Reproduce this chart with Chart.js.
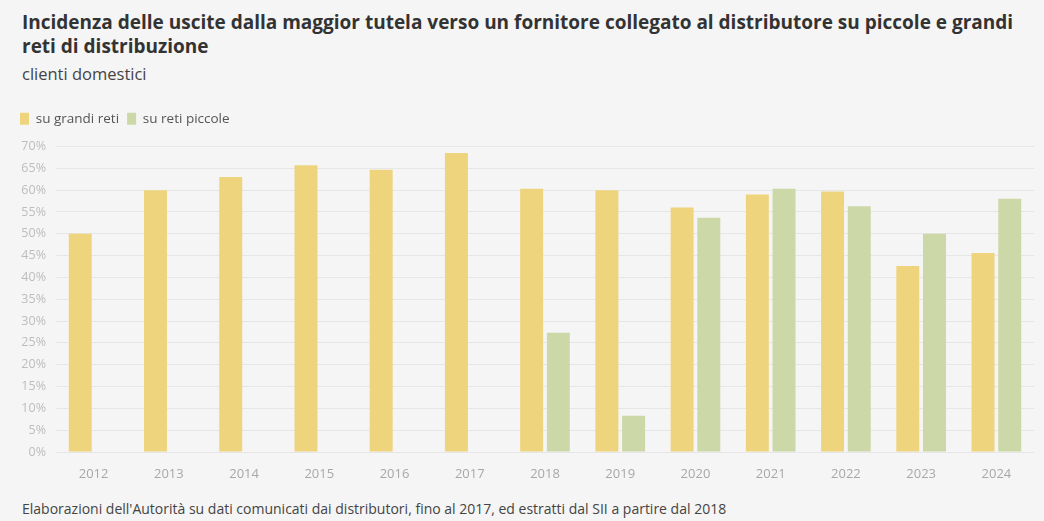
<!DOCTYPE html>
<html lang="it">
<head>
<meta charset="utf-8">
<title>Uscite dalla maggior tutela</title>
<script src="https://cdn.jsdelivr.net/npm/chart.js@4.4.1/dist/chart.umd.min.js"></script>
<style>
  html, body { margin: 0; padding: 0; }
  body {
    width: 1044px; height: 521px; overflow: hidden;
    background: #f5f5f5; font-family: "Open Sans", Lato, sans-serif; position: relative;
  }
  h1 {
    position: absolute; left: 22px; top: 10px; width: 1012px; margin: 0;
    font-size: 19px; line-height: 24px; font-weight: 700; color: #333;
  }
  .sub { position: absolute; left: 22px; top: 62px; font-size: 16.5px; color: #444; }
  .box { position: absolute; left: 0; top: 98px; width: 1044px; height: 382px; }
  .note { position: absolute; left: 22px; top: 499px; font-size: 14px; color: #444; }
</style>
</head>
<body>
<h1>Incidenza delle uscite dalla maggior tutela verso un fornitore collegato al distributore su piccole e grandi reti di distribuzione</h1>
<div class="sub">clienti domestici</div>
<div class="box"><canvas id="uscite"></canvas></div>
<div class="note">Elaborazioni dell'Autorità su dati comunicati dai distributori, fino al 2017, ed estratti dal SII a partire dal 2018</div>
<script>
// anni e quote di uscita (%)
var anni = ['2012', '2013', '2014', '2015', '2016', '2017', '2018', '2019', '2020', '2021', '2022', '2023', '2024'];
var grandiReti = [50, 60, 63, 65.7, 64.7, 68.5, 60.3, 60, 56, 59, 59.7, 42.6, 45.6];
var retiPiccole = [null, null, null, null, null, null, 27.3, 8.3, 53.7, 60.3, 56.3, 50, 58];
var tickMax = 70;
var tickStep = 5;

// spazio extra sotto la legenda
var legendGap = {
    id: 'legendGap',
    beforeInit: function (chart) {
        var fit = chart.legend.fit;
        chart.legend.fit = function () {
            fit.bind(chart.legend)();
            this.height += 11;
        };
    }
};

var ctx = document.getElementById('uscite').getContext('2d');

var chart = new Chart(ctx, {
    type: 'bar',
    data: {
        labels: anni,
        datasets: [{
            label: 'su grandi reti',
            data: grandiReti,
            backgroundColor: '#efd47e',
        }, {
            label: 'su reti piccole',
            data: retiPiccole,
            backgroundColor: '#cdd8a8',
        }]
    },
    options: {
        responsive: true,
        maintainAspectRatio: false,
        animation: false,
        layout: { padding: { left: 12, right: 10, top: 6, bottom: 2 } },
        datasets: { bar: { categoryPercentage: 0.71, barPercentage: 0.86 } },
        plugins: {
            tooltip: { enabled: false },
            legend: {
                position: 'top',
                align: 'start',
                labels: {
                    boxWidth: 9,
                    boxHeight: 12,
                    padding: 8,
                    color: '#555',
                    font: { family: 'Open Sans', size: 13.5 }
                }
            }
        },
        scales: {
            x: {
                grid: { display: false },
                border: { display: false },
                ticks: { color: '#a8a8a8', padding: 6, font: { family: 'Open Sans', size: 13 } },
                afterFit: function (scale) { scale.height = 26; }
            },
            y: {
                min: 0,
                max: tickMax,
                border: { display: false },
                grid: { color: '#e6e6e6', drawTicks: false },
                ticks: {
                    stepSize: tickStep,
                    padding: 10,
                    color: '#bdbdbd',
                    font: { family: 'Open Sans', size: 12.5 },
                    callback: function (v) { return v + '%'; }
                },
                afterFit: function (scale) { scale.width = 44; }
            }
        }
    },
    plugins: [legendGap]
});
</script>
</body>
</html>
